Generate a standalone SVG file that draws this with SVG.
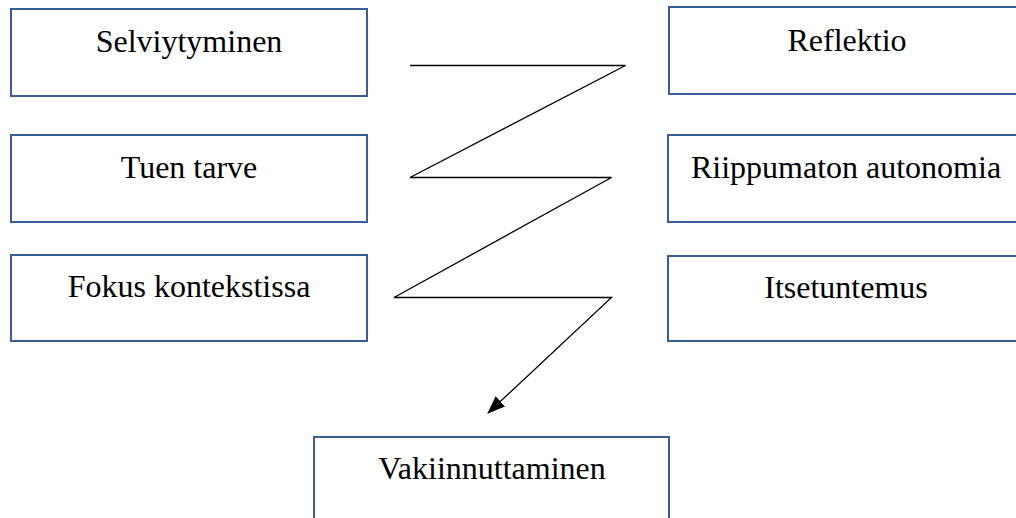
<svg xmlns="http://www.w3.org/2000/svg" width="1016" height="518" viewBox="0 0 1016 518">
<style>
.box{fill:#fff;stroke:#3B5E9A;stroke-width:2}
.lbl{font-family:'Liberation Serif','DejaVu Serif',serif;font-size:32px;fill:#000;text-anchor:middle}
.ln{fill:none;stroke:#000;stroke-width:1.3}
</style>
<defs>
<marker id="ah" markerWidth="18" markerHeight="14" refX="17" refY="7" orient="auto" markerUnits="userSpaceOnUse" viewBox="0 0 18 14">
<path d="M0,0 L18,7 L0,14 Z" fill="#000"/>
</marker>
</defs>
<rect width="1016" height="518" fill="#fff"/>
<g id="n-selviytyminen"><rect class="box" x="11" y="9" width="356" height="87"/><text class="lbl" x="189" y="52">Selviytyminen</text></g>
<g id="n-tuen-tarve"><rect class="box" x="11" y="135" width="356" height="87"/><text class="lbl" x="189" y="178">Tuen tarve</text></g>
<g id="n-fokus"><rect class="box" x="11" y="255" width="356" height="86"/><text class="lbl" x="189" y="297">Fokus kontekstissa</text></g>
<g id="n-reflektio"><rect class="box" x="669" y="7" width="356" height="87"/><text class="lbl" x="847" y="51">Reflektio</text></g>
<g id="n-riippumaton"><rect class="box" x="668" y="135" width="357" height="87"/><text class="lbl" x="846" y="178">Riippumaton autonomia</text></g>
<g id="n-itsetuntemus"><rect class="box" x="668" y="256" width="357" height="85"/><text class="lbl" x="846" y="298">Itsetuntemus</text></g>
<g id="n-vakiinnuttaminen"><rect class="box" x="314" y="437" width="355" height="100"/><text class="lbl" x="492" y="479">Vakiinnuttaminen</text></g>
<g id="connectors">
<path class="ln" d="M410,65.5 L625.5,65.5 L410,177.5 L611.5,177.5 L394,297.5 L611.5,297.5 L488,413" marker-end="url(#ah)"/>
</g>
</svg>
